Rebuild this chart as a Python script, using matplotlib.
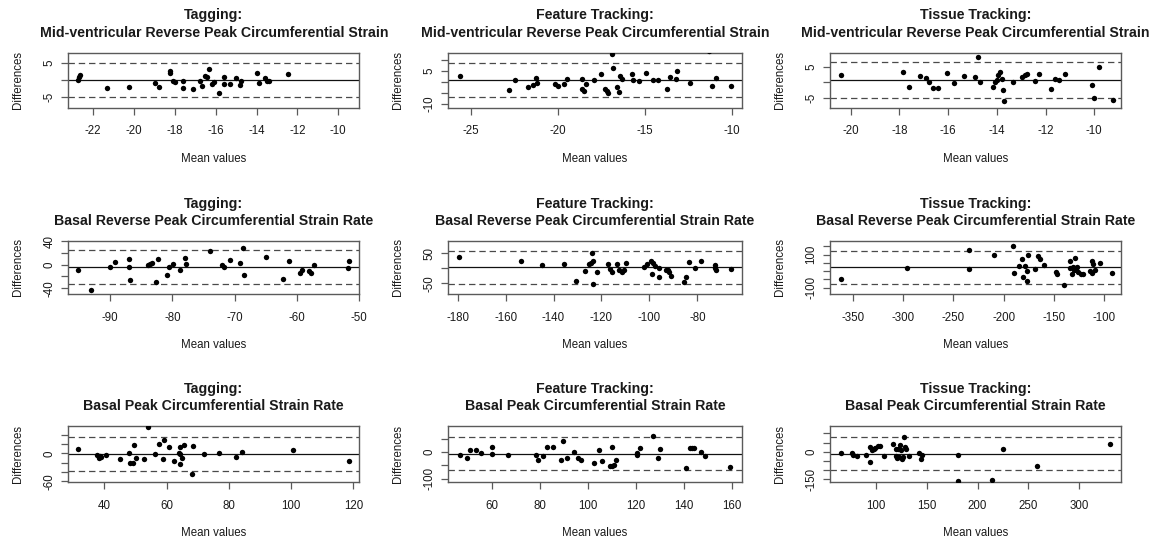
import matplotlib
matplotlib.use("Agg")
import matplotlib.pyplot as plt

plt.rcParams['font.family'] = ['Liberation Sans', 'DejaVu Sans']
plt.rcParams['lines.scale_dashes'] = False

# ---------------- data: (mean of two readers, difference) ----------------
# Tagging, mid-ventricular reverse peak circumferential strain
tag_mid_mean = [-22.75, -22.70, -22.64, -21.33, -20.26, -18.95, -18.79, -18.23, -18.22, -18.09,
                -18.0, -17.6, -17.6, -17.12, -16.75, -16.65, -16.5, -16.4, -16.33, -16.2,
                -16.07, -15.84, -15.6, -15.57, -15.3, -15.02, -14.83, -14.78, -13.96, -13.9,
                -13.6, -13.5, -13.37, -12.46]
tag_mid_diff = [-0.1, 0.7, 1.2, -2.45, -2.06, -1.08, -2.25, 2.55, 1.86, -0.4,
                -0.8, -0.5, -2.55, -2.9, -0.5, -2.0, 1.1, 0.9, 3.0, -1.4,
                -0.6, -4.0, 0.7, -1.3, -1.3, 0.5, -1.6, -0.5, 1.9, -0.9,
                0.5, -0.3, -0.5, 1.6]
tag_mid_loa = [-0.1, -5.1, 4.9]

# Feature tracking, mid-ventricular reverse peak circumferential strain
ft_mid_mean = [-25.65, -22.81, -22.47, -21.74, -21.45, -21.26, -21.18, -20.19, -20.01, -19.65,
               -19.46, -18.63, -18.6, -18.48, -18.38, -17.94, -17.5, -17.27, -17.19, -17.12,
               -16.9, -16.85, -16.62, -16.46, -16.4, -16.33, -15.75, -15.66, -15.35, -14.9,
               -14.55, -14.22, -13.7, -13.53, -13.2, -13.14, -12.38, -11.28, -11.11, -10.88,
               -10.06]
ft_mid_diff = [2.8, -3.5, 1.1, -2.5, -1.2, 1.7, -0.5, -0.9, -1.7, -0.9,
               1.5, 1.4, -3.2, -4.2, -0.8, 1.1, 3.5, -3.1, -4.2, -5.1,
               12.6, 6.6, -2.5, -4.5, 2.6, 1.4, 3.4, 0.9, 0.3, 4.3,
               1.1, 1.1, -3.1, 2.2, 1.4, 5.1, -0.5, 14.0, -2.0, 2.0,
               -1.8]
ft_mid_loa = [0.8, -7.15, 8.75]

# Tissue tracking, mid-ventricular reverse peak circumferential strain
tt_mid_mean = [-20.41, -17.86, -17.62, -17.14, -16.9, -16.77, -16.64, -16.43, -16.04, -15.74,
               -15.34, -14.9, -14.78, -14.7, -14.15, -14.07, -14.0, -13.94, -13.86, -13.8,
               -13.76, -13.72, -13.34, -12.95, -12.84, -12.75, -12.42, -12.25, -11.76, -11.6,
               -11.43, -11.18, -10.11, -10.01, -9.82, -9.23]
tt_mid_diff = [2.3, 3.4, -1.45, 2.0, 1.35, 0.3, -1.7, -1.7, 3.1, -0.05,
               2.0, 1.6, 8.0, 0.3, -1.55, 0.05, 0.7, 2.4, 3.3, 1.2,
               -2.5, -6.1, 0.3, 1.8, 2.3, 2.6, 0.5, 2.7, -2.1, 1.0,
               0.8, 2.7, -0.7, -4.9, 4.8, -5.5]
tt_mid_loa = [0.75, -4.9, 6.4]

# Tagging, basal reverse peak circumferential strain rate
tag_brsr_mean = [-95.13, -93.05, -90.0, -89.2, -86.9, -86.9, -86.84, -83.85, -83.53, -83.2,
                 -82.67, -82.3, -80.8, -80.53, -79.95, -78.77, -77.9, -77.86, -73.9, -72.0,
                 -71.76, -70.7, -69.2, -68.6, -68.5, -64.9, -62.3, -61.28, -59.57, -59.14,
                 -58.13, -57.75, -57.2, -51.8, -51.66]
tag_brsr_diff = [-9.1, -42.9, -3.4, 4.0, 9.7, -4.0, -26.3, -0.6, 1.1, 2.9,
                 -28.6, 10.3, -18.3, -3.4, 0.6, -8.6, 12.0, 1.7, 24.0, -0.6,
                 -4.6, 8.6, 2.9, 28.0, -18.3, 12.6, -24.6, 5.7, -13.7, -8.6,
                 -11.4, -14.3, -0.6, -5.1, 5.7]
tag_brsr_loa = [-3.4, -32.6, 25.7]

# Feature tracking, basal reverse peak circumferential strain rate
ft_brsr_mean = [-179.3, -153.6, -144.8, -135.8, -130.6, -126.7, -125.2, -124.1, -124.4, -123.4,
                -123.4, -121.9, -117.1, -116.4, -115.5, -113.4, -112.5, -111.6, -110.6, -109.6,
                -102.3, -101.1, -99.5, -98.4, -98.9, -97.7, -96.0, -96.0, -93.1, -92.4,
                -92.0, -91.1, -85.6, -84.7, -83.6, -80.8, -78.6, -72.6, -72.5, -72.2,
                -66.1]
ft_brsr_diff = [38, 23.9, 10.9, 15.2, -43.5, -8.7, 15.2, 48.9, 18.5, 22.8,
                -51, -13, 14.1, -2.2, -10.9, 14.1, -6.5, -13, -4.3, 16.3,
                3.3, 13, 22.8, 18.5, -18.5, 6.5, 2.2, -28.3, -6.5, -4.3,
                -13, -25, -46.7, -29.3, 19.6, 1.1, 22.8, 9.8, 1.1, -4.3,
                -3.3]
ft_brsr_loa = [3.0, -51.0, 57.5]

# Tissue tracking, basal reverse peak circumferential strain rate
tt_brsr_mean = [-362, -296.1, -234.3, -234, -210, -190.8, -189.4, -184.8, -181.4, -180.8,
                -179.1, -177.1, -176.8, -175.5, -168.8, -166.2, -163.8, -159.8, -148.2, -147.2,
                -139.9, -134.2, -134.2, -132.2, -131.2, -130.6, -128.9, -128.6, -126.9, -126.3,
                -123.3, -121.6, -114.3, -112.6, -112, -111.6, -109.3, -104.3, -92]
tt_brsr_diff = [-48, 20, 130, 14, 98, 152, -10, 30, 72, -38,
                30, 4, -62, 100, 14, 92, 74, 40, -4, -14,
                -86, 64, 18, -18, 28, 10, 82, 6, 24, -2,
                -18, -18, 0, -8, 62, 44, 10, 48, -10]
tt_brsr_loa = [23.0, -77.0, 124.0]

# Tagging, basal peak circumferential strain rate
tag_bpsr_mean = [31.65, 37.6, 38.2, 38.6, 38.9, 40.4, 45.0, 48.0, 48.1, 49.1,
                 49.4, 50.1, 52.85, 54.0, 56.4, 57.6, 58.7, 59.2, 60.8, 62.5,
                 63.9, 64.2, 64.3, 64.4, 64.8, 65.5, 68.05, 68.4, 71.9, 76.9,
                 82.4, 84.2, 100.6, 118.7]
tag_bpsr_diff = [9.3, -3.6, -9.3, -6.4, -7.9, -3.6, -12.1, 0, -21.4, -21.4,
                 17.9, -10, -12.1, 55.7, -2.1, 20.7, -12.1, 29.3, 12.9, -15.7,
                 0.7, 14.3, -22.1, -0.7, -10.7, 17.9, -45, 15, -2.1, 0.7,
                 -8.6, 3.6, 7.1, -16.4]
tag_bpsr_loa = [-1.6, -37.1, 34.3]

# Feature tracking, basal peak circumferential strain rate
ft_bpsr_mean = [46.7, 49.9, 50.8, 53.3, 55.7, 60, 60.3, 66.7, 78.3, 79.2,
                81.5, 82.9, 85.4, 88.75, 89.9, 91.5, 94.4, 96.1, 97.1, 102.8,
                104.9, 105.8, 110.1, 109.3, 110.3, 111, 111.8, 120.7, 120.7, 121.8,
                127.1, 129.4, 130.1, 140.8, 142.6, 143.3, 144.2, 147.2, 149.0, 159.4]
ft_bpsr_diff = [-11.4, -20.3, 8.9, 6.4, -2.5, 17.8, -6.4, -11.4, -11.4, -30.5,
                -12.7, 17.8, 17.8, -30.5, 43.2, -21.6, 1.3, -21.6, -29.2, -40.7,
                7.6, -33, 17.8, -52, -52, -49.6, -29.2, -2.5, -10.2, 14,
                62.3, -20.3, 10.2, -59.7, 14, 14, 15.2, -1.3, -12.7, -57.2]
ft_bpsr_loa = [-6.0, -68.6, 57.2]

# Tissue tracking, basal peak circumferential strain rate
tt_bpsr_mean = [65.5, 76.5, 77.9, 81.8, 90.9, 94.1, 94.8, 96.1, 98, 99.7,
                102, 104.2, 107.8, 116.9, 119.5, 120.2, 120.8, 122.1, 122.8, 124.1,
                124.8, 125.7, 126.7, 127.4, 128.3, 129.6, 132.9, 142.3, 144.6, 145.9,
                181.1, 180.8, 214, 225, 258, 330]
tt_bpsr_diff = [-5.5, -5.5, -18, -25.5, -20, -56, 23.6, 9, 16.4, 21.8,
                29, 29, -23.6, 41.8, -23.6, 12.7, -32.7, 14.5, -30.9, 38.2,
                9.1, -38.2, -30.9, 80, 23.6, 12.7, -23.6, -5.5, -38.2, -16.4,
                -18, -158, -154.5, 12.7, -76.4, 40]
tt_bpsr_loa = [-13.0, -102.0, 78.0]

methods = ['Tagging:', 'Feature Tracking:', 'Tissue Tracking:']
measures = ['Mid-ventricular Reverse Peak Circumferential Strain',
            'Basal Reverse Peak Circumferential Strain Rate',
            'Basal Peak Circumferential Strain Rate']

series = [
    [(tag_mid_mean, tag_mid_diff, tag_mid_loa),
     (ft_mid_mean, ft_mid_diff, ft_mid_loa),
     (tt_mid_mean, tt_mid_diff, tt_mid_loa)],
    [(tag_brsr_mean, tag_brsr_diff, tag_brsr_loa),
     (ft_brsr_mean, ft_brsr_diff, ft_brsr_loa),
     (tt_brsr_mean, tt_brsr_diff, tt_brsr_loa)],
    [(tag_bpsr_mean, tag_bpsr_diff, tag_bpsr_loa),
     (ft_bpsr_mean, ft_bpsr_diff, ft_bpsr_loa),
     (tt_bpsr_mean, tt_bpsr_diff, tt_bpsr_loa)],
]

# axis ranges and ticks for each panel
xlims = [[(-23.21, -8.97), (-26.3, -9.42), (-20.85, -8.9)],
         [(-96.7, -50.0), (-183.9, -61.5), (-372.6, -83.4)],
         [(28.4, 121.9), (41.9, 164.2), (55.05, 341.0)]]
ylims = [[(-8.24, 7.94), (-11.85, 13.5), (-8.1, 9.6)],
         [(-50.3, 41.1), (-85.9, 91.3), (-140, 186)],
         [(-62.1, 59.3), (-114.4, 100.4), (-167.3, 141.8)]]
xticks = [[list(range(-22, -9, 2)), [-25, -20, -15, -10], list(range(-20, -9, 2))],
          [[-90, -80, -70, -60, -50], list(range(-180, -79, 20)), list(range(-350, -99, 50))],
          [[40, 60, 80, 100, 120], list(range(60, 161, 20)), [100, 150, 200, 250, 300]]]
yticks = [[[-5, 0, 5], [-10, -5, 0, 5, 10], [-5, 0, 5]],
          [[-40, -20, 0, 20, 40], [-50, 0, 50], [-100, -50, 0, 50, 100, 150]],
          [[-60, -40, -20, 0, 20, 40], [-100, -50, 0, 50], [-150, -100, -50, 0, 50, 100]]]
ylabels_shown = [[{-5, 5}, {-10, 5}, {-5, 5}],
                 [{-40, 0, 40}, {-50, 50}, {-100, 100}],
                 [{-60, 0}, {-100, 0}, {-150, 0}]]

# ---------------- layout (pixels) ----------------
W, H = 1156, 542
col_px = [(68.3, 359.3), (448.3, 741.7), (830.0, 1121.0)]
row_px = [(52.5, 107.7), (240.5, 294.3), (425.7, 482.3)]

fig = plt.figure(figsize=(W / 100, H / 100), dpi=100)
fig.patch.set_facecolor('white')

box_col = '#5a5a5a'
txt_col = '#1a1a1a'
fs = 8.3
fs_title = 10.2

for r in range(3):
    y0, y1 = row_px[r]
    for c in range(3):
        x0, x1 = col_px[c]
        ax = fig.add_axes([x0 / W, 1 - y1 / H, (x1 - x0) / W, (y1 - y0) / H])
        xs, ys, loa = series[r][c]
        bias, lower, upper = loa

        ax.axhline(bias, color='#111111', lw=0.9, zorder=2)
        ax.axhline(lower, color='#4a4a4a', lw=0.9, dashes=(4.6, 2.8), zorder=2)
        ax.axhline(upper, color='#4a4a4a', lw=0.9, dashes=(4.6, 2.8), zorder=2)
        ax.scatter(xs, ys, s=15, c='black', linewidths=0, zorder=3)

        ax.set_xlim(*xlims[r][c])
        ax.set_ylim(*ylims[r][c])
        ax.set_xticks(xticks[r][c])
        ax.set_xticklabels([str(v) for v in xticks[r][c]])
        ax.set_yticks(yticks[r][c])
        ax.set_yticklabels([str(v) if v in ylabels_shown[r][c] else ''
                            for v in yticks[r][c]])

        for s in ax.spines.values():
            s.set_color(box_col)
            s.set_linewidth(1.0)
        ax.tick_params(direction='out', length=5, width=0.9, color=box_col,
                       labelsize=fs, labelcolor=txt_col)
        ax.tick_params(axis='x', pad=7.5)
        ax.tick_params(axis='y', pad=4)
        for lab in ax.get_yticklabels():
            lab.set_rotation(90)
            lab.set_va('center')

        cx = (x0 + x1) / 2 / W
        fig.text(cx, 1 - (y0 - 37) / H, methods[c], ha='center', va='center',
                 fontsize=fs_title, fontweight='bold', color=txt_col)
        fig.text(cx, 1 - (y0 - 19.5) / H, measures[r], ha='center', va='center',
                 fontsize=fs_title, fontweight='bold', color=txt_col)
        fig.text(cx, 1 - (y1 + 51) / H, 'Mean values', ha='center', va='center',
                 fontsize=fs, color=txt_col)
        fig.text((x0 - 50) / W, 1 - (y0 + y1) / 2 / H, 'Differences', ha='center',
                 va='center', rotation=90, fontsize=fs, color=txt_col)

fig.savefig('out.png', dpi=100, facecolor='white')
